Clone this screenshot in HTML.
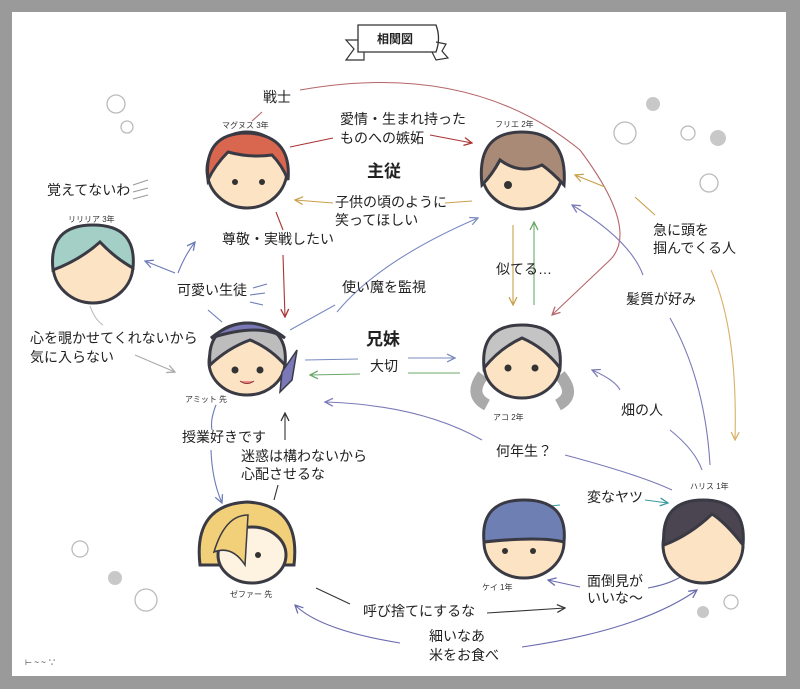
<!DOCTYPE html>
<html><head><meta charset="utf-8"><style>
html,body{margin:0;padding:0;background:#9a9a9a;}
svg{display:block}
text{font-family:"Liberation Sans","Noto Sans CJK JP",sans-serif;fill:#222;}
.l{font-size:14px}
.s{font-size:8px;fill:#333}
.b{font-size:17px;font-weight:bold}
</style></head><body>
<svg width="800" height="689" viewBox="0 0 800 689" xmlns="http://www.w3.org/2000/svg">
<defs>
<marker id="a" viewBox="0 0 10 10" refX="9" refY="5" markerWidth="9" markerHeight="9" orient="auto-start-reverse"><path d="M1,1 L9,5 L1,9" fill="none" stroke="context-stroke" stroke-width="1.3"/></marker>
</defs>
<rect x="12" y="12" width="774" height="664" fill="#fff"/>
<!-- ribbon -->
<path d="M358,25 L436,25 Q441,38 436,52 L358,52 Z" fill="#fff" stroke="#333" stroke-width="1.3"/>
<path d="M358,40 L346,40 L354,49 L346,60 L364,60 L364,52" fill="none" stroke="#333" stroke-width="1.2"/>
<path d="M436,42 L446,44 L442,51 L448,58 L436,60 L432,52" fill="none" stroke="#333" stroke-width="1.2"/>
<text x="377" y="43" font-size="12" font-weight="bold">相関図</text>

<g fill="none" stroke-width="1.1">
<path d="M300,90 Q470,60 580,150 Q640,230 610,260 L552,315" stroke="#b5666a" marker-end="url(#a)"/>
<path d="M252,121 L262,112" stroke="#b5666a"/>
<path d="M290,147 L333,138" stroke="#a33"/>
<path d="M430,135 L472,143" stroke="#a33" marker-end="url(#a)"/>
<path d="M472,201 L445,203" stroke="#c9a04a"/>
<path d="M333,203 L295,200" stroke="#c9a04a" marker-end="url(#a)"/>
<path d="M276,212 L283,230" stroke="#a33"/>
<path d="M283,255 L285,317" stroke="#a33" marker-end="url(#a)"/>
<path d="M575,175 L605,187" stroke="#c9a04a" marker-start="url(#a)"/>
<path d="M635,197 L655,215" stroke="#c9a04a"/>
<path d="M711,270 Q738,330 735,440" stroke="#d9b067" marker-end="url(#a)"/>
<path d="M572,205 Q630,240 643,275" stroke="#7a7ab8" marker-start="url(#a)"/>
<path d="M670,318 Q705,380 710,465" stroke="#7a7ab8"/>
<path d="M513,225 L513,305" stroke="#c9a04a" marker-end="url(#a)"/>
<path d="M534,305 L534,222" stroke="#6aa86a" marker-end="url(#a)"/>
<path d="M592,370 Q615,380 620,390" stroke="#7a7ab8" marker-start="url(#a)"/>
<path d="M670,430 Q695,450 702,470" stroke="#7a7ab8"/>
<path d="M337,312 Q380,260 478,218" stroke="#7a8ac0" marker-end="url(#a)"/>
<path d="M290,330 L335,305" stroke="#7a8ac0"/>
<path d="M305,360 L358,359" stroke="#7a8ac0"/>
<path d="M408,358 L455,358" stroke="#7a8ac0" marker-end="url(#a)"/>
<path d="M460,373 L408,373" stroke="#6aa86a"/>
<path d="M360,374 L310,375" stroke="#6aa86a" marker-end="url(#a)"/>
<path d="M482,440 Q420,405 325,402" stroke="#7a7ab8" marker-end="url(#a)"/>
<path d="M565,455 Q640,475 672,490" stroke="#7a7ab8"/>
<path d="M175,273 L145,261" stroke="#6a7ab8" marker-end="url(#a)"/>
<path d="M178,273 Q185,255 195,242" stroke="#6a7ab8" marker-end="url(#a)"/>
<path d="M208,310 L222,322" stroke="#6a7ab8"/>
<path d="M133,185 L148,180 M133,192 L148,188 M133,199 L148,195" stroke="#999"/>
<path d="M253,288 L267,284 M250,295 L265,293 M250,302 L263,305" stroke="#6a7ab8"/>
<path d="M90,306 Q95,320 103,325" stroke="#bbb"/>
<path d="M135,355 L175,372" stroke="#aaa" marker-end="url(#a)"/>
<path d="M216,405 Q210,420 212,430" stroke="#6a7ab8"/>
<path d="M211,450 Q212,480 222,503" stroke="#6a7ab8" marker-end="url(#a)"/>
<path d="M285,440 L285,413" stroke="#333" marker-end="url(#a)"/>
<path d="M278,485 L274,500" stroke="#333"/>
<path d="M560,505 L540,507" stroke="#3a9aa0"/>
<path d="M645,500 L668,503" stroke="#3a9aa0" marker-end="url(#a)"/>
<path d="M580,587 L548,580" stroke="#6a6ab0" marker-end="url(#a)"/>
<path d="M648,588 Q670,584 682,576" stroke="#6a6ab0"/>
<path d="M316,588 L350,604" stroke="#333"/>
<path d="M487,613 L565,608" stroke="#333" marker-end="url(#a)"/>
<path d="M400,643 Q320,630 295,605" stroke="#6a6ab0" marker-end="url(#a)"/>
<path d="M522,647 Q640,630 697,590" stroke="#6a6ab0" marker-end="url(#a)"/>
</g>

<g stroke="#3a3a44" stroke-width="3">
<ellipse cx="247" cy="170" rx="40" ry="38" fill="#fbe3c4"/>
<path d="M208,180 Q203,133 247,133 Q292,135 288,180 Q282,165 272,155 Q250,158 228,152 Q215,165 208,180Z" fill="#d9674f"/>
<ellipse cx="522" cy="172" rx="40" ry="37" fill="#fbe3c4"/>
<path d="M482,185 Q476,132 522,132 Q568,132 564,185 Q552,172 542,165 Q520,175 500,160 Q492,175 482,185Z" fill="#a88a76"/>
<ellipse cx="93" cy="265" rx="40" ry="38" fill="#fbe3c4"/>
<path d="M53,270 Q48,225 93,225 Q137,225 133,268 Q115,258 100,242 Q80,260 53,270Z" fill="#a3cfc6"/>
<ellipse cx="247" cy="362" rx="38" ry="33" fill="#fbe3c4"/>
<path d="M210,365 Q206,325 247,323 Q289,325 285,365 Q270,348 250,340 Q228,348 210,365Z" fill="#bdbdbd"/>
<path d="M211,338 Q247,308 285,338 Q260,322 211,338Z" fill="#7b78b8"/>
<path d="M282,372 L297,350 L292,380 L280,392Z" fill="#7b78b8" stroke-width="1.5"/>
<path d="M483,375 Q468,395 487,405 M560,375 Q577,395 558,405" fill="none" stroke="#aaa" stroke-width="12"/>
<ellipse cx="522" cy="365" rx="38" ry="33" fill="#fbe3c4"/>
<path d="M484,368 Q480,325 522,325 Q564,325 560,368 Q545,348 522,338 Q500,348 484,368Z" fill="#c4c4c4"/>
<path d="M200,565 Q193,505 247,502 Q301,505 294,565Z" fill="#f2cf79"/>
<ellipse cx="252" cy="555" rx="34" ry="28" fill="#fdf3e0"/>
<path d="M214,552 Q225,515 248,515 L245,565 Q232,545 214,552Z" fill="#f2cf79" stroke-width="1.5"/>
<ellipse cx="524" cy="542" rx="40" ry="36" fill="#fbe3c4"/>
<path d="M484,542 Q480,500 524,500 Q568,500 564,542 Q540,536 484,542Z" fill="#6d7fb3"/>
<ellipse cx="703" cy="545" rx="40" ry="38" fill="#fbe3c4"/>
<path d="M664,545 Q660,500 703,500 Q747,500 743,545 Q725,522 712,514 Q690,535 664,545Z" fill="#4a4550"/>
</g>
<g fill="#333">
<circle cx="235" cy="182" r="3"/><circle cx="262" cy="182" r="3"/>
<circle cx="508" cy="185" r="4"/>
<circle cx="235" cy="370" r="3.5"/><circle cx="260" cy="370" r="3.5"/>
<circle cx="508" cy="368" r="3.5"/><circle cx="535" cy="368" r="3.5"/>
<circle cx="505" cy="551" r="3"/><circle cx="533" cy="551" r="3"/>
<circle cx="258" cy="555" r="3"/>
</g>
<path d="M240,381 Q247,386 254,381" fill="#e88" stroke="#833" stroke-width="1"/>

<text class="s" x="222" y="128">マグヌス 3年</text>
<text class="s" x="495" y="127">フリエ 2年</text>
<text class="s" x="68" y="222">リリリア 3年</text>
<text class="s" x="185" y="402">アミット 先</text>
<text class="s" x="493" y="420">アコ 2年</text>
<text class="s" x="230" y="597">ゼファー 先</text>
<text class="s" x="482" y="590">ケイ 1年</text>
<text class="s" x="690" y="489">ハリス 1年</text>

<text class="l" x="263" y="102">戦士</text>
<text class="l" x="340" y="124">愛情・生まれ持った</text>
<text class="l" x="340" y="143">ものへの嫉妬</text>
<text class="b" x="367" y="177">主従</text>
<text class="l" x="335" y="207">子供の頃のように</text>
<text class="l" x="335" y="225">笑ってほしい</text>
<text class="l" x="222" y="244">尊敬・実戦したい</text>
<text class="l" x="47" y="195">覚えてないわ</text>
<text class="l" x="177" y="295">可愛い生徒</text>
<text class="l" x="342" y="292">使い魔を監視</text>
<text class="b" x="366" y="345">兄妹</text>
<text class="l" x="370" y="371">大切</text>
<text class="l" x="30" y="343">心を覗かせてくれないから</text>
<text class="l" x="30" y="362">気に入らない</text>
<text class="l" x="496" y="274">似てる…</text>
<text class="l" x="653" y="235">急に頭を</text>
<text class="l" x="653" y="253">掴んでくる人</text>
<text class="l" x="626" y="304">髪質が好み</text>
<text class="l" x="621" y="415">畑の人</text>
<text class="l" x="496" y="456">何年生？</text>
<text class="l" x="182" y="442">授業好きです</text>
<text class="l" x="241" y="461">迷惑は構わないから</text>
<text class="l" x="241" y="479">心配させるな</text>
<text class="l" x="587" y="502">変なヤツ</text>
<text class="l" x="587" y="586">面倒見が</text>
<text class="l" x="587" y="603">いいな〜</text>
<text class="l" x="363" y="616">呼び捨てにするな</text>
<text class="l" x="429" y="641">細いなあ</text>
<text class="l" x="429" y="660">米をお食べ</text>

<g fill="none" stroke="#bbb" stroke-width="1.3">
<circle cx="116" cy="104" r="9"/><circle cx="127" cy="127" r="6"/>
<circle cx="625" cy="133" r="11"/><circle cx="688" cy="133" r="7"/><circle cx="709" cy="183" r="9"/>
<circle cx="80" cy="549" r="8"/><circle cx="146" cy="600" r="11"/>
<circle cx="731" cy="602" r="7"/>
</g>
<g fill="#c8c8c8"><circle cx="653" cy="104" r="7"/><circle cx="718" cy="138" r="8"/><circle cx="115" cy="578" r="7"/><circle cx="703" cy="612" r="6"/></g>
<text x="25" y="665" font-size="8" fill="#333">⊢ ~ ~ ∵</text>
</svg>
</body></html>
